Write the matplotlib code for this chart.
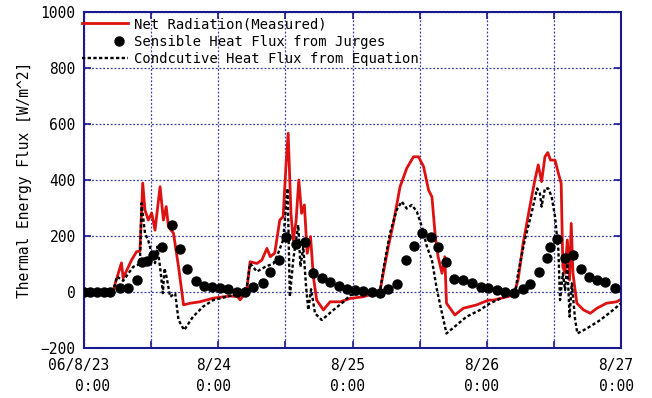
import matplotlib
matplotlib.use('Agg')
import matplotlib.pyplot as plt
from matplotlib.ticker import MultipleLocator, FuncFormatter
from matplotlib.legend_handler import HandlerLine2D
from matplotlib.transforms import ScaledTranslation

# hours since 06/8/23 0:00
net_hours = [0, 2.9, 5.2, 5.5, 6.7, 7.0, 8.5, 9.4, 10.0, 10.5, 10.9, 11.5, 12.1, 12.7,
             13.6, 14.2, 14.7, 15.1, 16.0, 16.9, 17.8, 19.0, 20.7, 23.1, 26.1, 27.5,
             27.9, 28.6, 29.1, 29.7, 30.9, 31.8, 32.7, 33.3, 34.1, 35.0, 35.6, 36.1,
             36.5, 37.0, 37.4, 37.9, 38.4, 38.9, 39.4, 39.9, 40.5, 41.0, 41.6, 42.8,
             44.0, 45.8, 47.6, 49.9, 52.9, 53.5, 54.4, 55.3, 56.5, 57.7, 58.9, 59.8,
             60.7, 61.6, 62.2, 62.8, 63.3, 64.0, 64.5, 64.8, 66.3, 67.8, 70.2, 72.3,
             73.2, 76.8, 77.6, 78.5, 79.7, 80.6, 81.2, 81.8, 82.4, 82.9, 83.4, 84.2,
             84.8, 85.3, 85.6, 86.0, 86.4, 86.8, 87.1, 87.4, 88.1, 89.3, 90.5, 91.7,
             93.4, 95.2, 96.0]
net_radiation = [0, 0, 0, 25, 104, 50, 114, 144, 146, 389, 293, 257, 282, 221,
                 376, 257, 305, 233, 210, 90, -46, -40, -35, -22, -14, -17,
                 -28, -10, 7, 108, 102, 114, 156, 126, 139, 257, 269, 448,
                 567, 281, 186, 250, 400, 281, 311, 138, 198, 55, -29, -64,
                 -35, -35, -23, -17, 1, 67, 162, 245, 376, 442, 483, 483,
                 448, 364, 340, 198, 126, 67, 126, -40, -82, -58, -46, -29,
                 -29, -11, 43, 174, 305, 400, 454, 394, 483, 498, 471, 471,
                 424, 388, 90, 67, 186, 43, 245, 67, -40, -64, -76, -58,
                 -40, -35, -26]

sens_hours = [0, 1.1, 2.3, 3.5, 4.7, 6.4, 7.9, 9.4, 10.3, 11.2, 12.4, 14.0, 15.7,
              17.2, 18.5, 20.1, 21.5, 22.9, 24.3, 25.8, 27.3, 28.8, 30.3, 32.0,
              33.3, 34.9, 36.2, 37.9, 39.5, 41.0, 42.5, 44.0, 45.5, 47.0, 48.5,
              49.9, 51.4, 52.9, 54.4, 55.9, 57.6, 59.0, 60.5, 62.0, 63.3, 64.8,
              66.2, 67.8, 69.4, 70.9, 72.3, 73.8, 75.3, 76.8, 78.4, 79.8, 81.3,
              82.7, 83.3, 84.6, 86.0, 87.5, 88.9, 90.3, 91.7, 93.2, 94.9]
sensible_heat = [0, 1, 0, 0, 1, 13, 13, 43, 108, 110, 132, 162, 241,
                 152, 82, 38, 21, 17, 13, 10, 1, 1, 19, 33,
                 73, 114, 195, 172, 180, 67, 49, 34, 20, 9, 7,
                 2, 0, -3, 10, 29, 115, 166, 212, 197, 160, 107,
                 48, 42, 31, 19, 13, 7, 1, -3, 11, 27, 73,
                 120, 162, 190, 120, 132, 82, 55, 43, 34, 15]

cond_hours = [0, 5.2, 5.9, 7.0, 8.8, 10.0, 10.3, 10.9, 11.5, 12.1, 12.7, 13.1, 13.6,
              14.1, 14.4, 14.8, 15.4, 16.3, 16.9, 17.9, 19.5, 21.3, 23.1, 25.5,
              27.9, 29.1, 29.7, 30.9, 32.4, 33.9, 34.7, 35.6, 36.4, 36.8, 37.4,
              38.3, 38.7, 39.2, 39.7, 40.1, 40.6, 41.3, 42.5, 44.6, 46.4, 47.6,
              52.9, 53.5, 54.7, 55.9, 56.8, 57.7, 58.6, 59.5, 60.4, 61.3, 62.2,
              63.1, 64.0, 64.8, 66.6, 68.4, 70.8, 72.6, 77.1, 77.6, 78.8, 80.0,
              81.0, 81.5, 81.8, 82.4, 83.0, 83.6, 84.2, 84.8, 85.1, 85.6, 86.0,
              86.4, 86.8, 87.2, 87.8, 88.2, 89.9, 92.3, 94.6, 96.0]
conductive_heat = [0, 0, 55, 40, 90, 100, 317, 210, 183, 138, 103, 162, 90,
                   -4, 85, 50, -17, -5, -100, -136, -88, -52, -29, -17,
                   -5, 19, 102, 73, 90, 102, 138, 186, 370, -17, 114,
                   239, 90, 162, 19, -64, 10, -76, -100, -64, -35, -11,
                   0, 79, 210, 293, 323, 298, 311, 287, 233, 162, 114,
                   7, -76, -148, -118, -88, -64, -40, 0, 67, 186, 281,
                   370, 352, 305, 370, 370, 340, 269, 150, -29, 67, 7,
                   102, -88, 31, -100, -148, -130, -100, -64, -40]

day_labels = ['06/8/23\n0:00', '8/24\n0:00', '8/25\n0:00', '8/26\n0:00', '8/27\n0:00']


# legend marker drawn near the right end of the handle, as in the original
# (with one point, HandlerLine2D puts the marker in the middle of xdata)
class RightMarker(HandlerLine2D):
    def get_xdata(self, legend, xdescent, ydescent, width, height, fontsize):
        xdata = [-xdescent + 0.6 * width, -xdescent + width]
        return xdata, [-xdescent + 0.8 * width]


navy = '#1a1a8c'
plt.rcParams['font.family'] = ['DejaVu Sans Mono']

fig = plt.figure(figsize=(6.52, 3.98), dpi=100)
ax = fig.add_axes([0.1288, 0.1256, 0.8237, 0.8442])

ax.plot(net_hours, net_radiation, color='#dd1111', lw=2.0, zorder=2,
        label='Net Radiation(Measured)')
dots, = ax.plot(sens_hours, sensible_heat, 'o', color='black', ms=6.5, zorder=4,
                label='Sensible Heat Flux from Jurges')
ax.plot(cond_hours, conductive_heat, color='black', lw=1.7, ls=(0, (1.4, 1.0)),
        zorder=3, label='Condcutive Heat Flux from Equation')

ax.set_xlim(0, 96)
ax.set_ylim(-200, 1000)
ax.xaxis.set_major_locator(MultipleLocator(12))
ax.xaxis.set_major_formatter(FuncFormatter(
    lambda v, p: day_labels[int(round(v / 24))] if round(v) % 24 == 0 else ''))
ax.yaxis.set_major_locator(MultipleLocator(200))

ax.grid(True, color='#3a3aa8', ls=(0, (1.5, 1.5)), lw=0.9)
for s in ax.spines.values():
    s.set_color(navy)
    s.set_linewidth(1.5)
ax.tick_params(direction='in', length=5, width=1.2, color=navy,
               top=True, right=True, labelsize=10.5, pad=6)
ax.tick_params(axis='x', pad=7)
shift = ScaledTranslation(-5 / 100, 0, fig.dpi_scale_trans)
for t in ax.get_xticklabels():
    t.set_linespacing(1.5)
    t.set_multialignment('right')
    t.set_transform(t.get_transform() + shift)

ax.set_ylabel('Thermal Energy Flux [W/m^2]', fontsize=10.5, labelpad=6)

ax.legend(loc='upper left', bbox_to_anchor=(-0.008, 0.993), frameon=False,
          fontsize=10, handlelength=3.3, handletextpad=0.4, borderpad=0.2,
          labelspacing=0.25, borderaxespad=0.0,
          handler_map={dots: RightMarker(numpoints=1)})

fig.savefig('out.png', dpi=100)
